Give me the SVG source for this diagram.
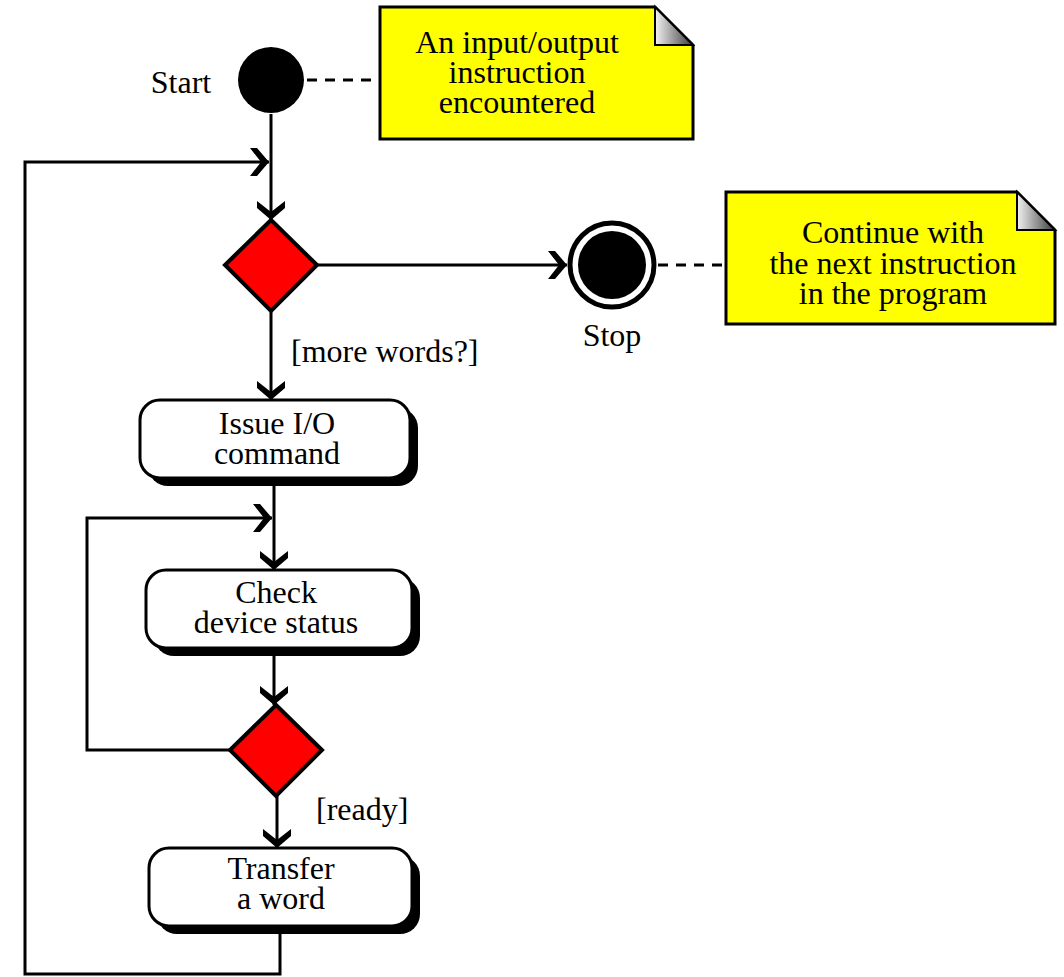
<svg xmlns="http://www.w3.org/2000/svg" width="1064" height="977" viewBox="0 0 1064 977">
  <style>
    text { font-family: "Liberation Serif", "Times New Roman", serif; font-size: 32px; fill: #000; }
    .mid { text-anchor: middle; }
    .line { fill: none; stroke: #000; stroke-width: 3; }
    .dash { fill: none; stroke: #000; stroke-width: 3; stroke-dasharray: 10 8; }
    .act { fill: #fff; stroke: #000; stroke-width: 3; }
    .shadow { fill: #000; }
    .decision { fill: #ff0000; stroke: #000; stroke-width: 4; }
    .note { fill: #ffff00; stroke: #000; stroke-width: 3; }
    .fold { fill: url(#foldShade); stroke: #000; stroke-width: 2; }
  </style>
  <defs>
    <linearGradient id="foldShade" x1="0" y1="0" x2="1" y2="0">
      <stop offset="0" stop-color="#f2f2f2"/>
      <stop offset="1" stop-color="#3c3c3c"/>
    </linearGradient>
    <marker id="arrow" markerUnits="userSpaceOnUse" viewBox="-22 -16 24 32" markerWidth="24" markerHeight="32" refX="0" refY="0" orient="auto">
      <path d="M0,0 L-12,-14 L-19,-14 L-8,0 L-19,14 L-12,14 Z" fill="#000"/>
    </marker>
  </defs>

  <!-- connectors -->
  <g id="connectors">
    <path class="line" d="M271,114 V220" marker-end="url(#arrow)"/>
    <path class="line" d="M318,265 H567" marker-end="url(#arrow)"/>
    <path class="line" d="M271,311 V400" marker-end="url(#arrow)"/>
    <path class="line" d="M274,478 V570" marker-end="url(#arrow)"/>
    <path class="line" d="M274,648 V705" marker-end="url(#arrow)"/>
    <path class="line" d="M277,796 V848" marker-end="url(#arrow)"/>
    <!-- retry loop: not ready -->
    <path class="line" d="M230,750 H87 V518 H272" marker-end="url(#arrow)"/>
    <!-- outer loop: next word -->
    <path class="line" d="M280,926 V974 H25 V162 H269" marker-end="url(#arrow)"/>
    <!-- note anchors -->
    <path class="dash" d="M307,80 H380"/>
    <path class="dash" d="M658,265 H726"/>
    <text x="291" y="362">[more words?]</text>
    <text x="316" y="820">[ready]</text>
  </g>

  <!-- start -->
  <g id="start">
    <circle cx="271" cy="80" r="33" fill="#000"/>
    <text x="181" y="93" class="mid">Start</text>
  </g>

  <g id="note-start">
    <path class="note" d="M380,7 H655 L693,45 V139 H380 Z"/>
    <path class="fold" d="M655,7 V45 H693 Z"/>
    <text x="517" y="53" class="mid">An input/output</text>
    <text x="517" y="83" class="mid">instruction</text>
    <text x="517" y="113" class="mid">encountered</text>
  </g>

  <g id="decision-words">
    <polygon class="decision" points="271,220 317,265 271,311 225,265"/>
  </g>

  <g id="stop">
    <circle cx="612" cy="265" r="42" fill="#fff" stroke="#000" stroke-width="5"/>
    <circle cx="612" cy="265" r="34" fill="#000"/>
    <text x="612" y="346" class="mid">Stop</text>
  </g>

  <g id="note-stop">
    <path class="note" d="M726,192 H1017 L1055,230 V324 H726 Z"/>
    <path class="fold" d="M1017,192 V230 H1055 Z"/>
    <text x="893" y="243" class="mid">Continue with</text>
    <text x="893" y="274" class="mid">the next instruction</text>
    <text x="893" y="304" class="mid">in the program</text>
  </g>

  <g id="issue-command">
    <rect class="shadow" x="148" y="408" width="270" height="78" rx="20"/>
    <rect class="act" x="140" y="400" width="270" height="78" rx="20"/>
    <text x="277" y="434" class="mid">Issue I/O</text>
    <text x="277" y="464" class="mid">command</text>
  </g>

  <g id="check-status">
    <rect class="shadow" x="154" y="578" width="266" height="78" rx="20"/>
    <rect class="act" x="146" y="570" width="266" height="78" rx="20"/>
    <text x="276" y="603" class="mid">Check</text>
    <text x="276" y="633" class="mid">device status</text>
  </g>

  <g id="decision-ready">
    <polygon class="decision" points="276,705 322,750 276,796 230,750"/>
  </g>

  <g id="transfer-word">
    <rect class="shadow" x="157" y="856" width="263" height="78" rx="20"/>
    <rect class="act" x="149" y="848" width="263" height="78" rx="20"/>
    <text x="281" y="879" class="mid">Transfer</text>
    <text x="281" y="909" class="mid">a word</text>
  </g>
</svg>
